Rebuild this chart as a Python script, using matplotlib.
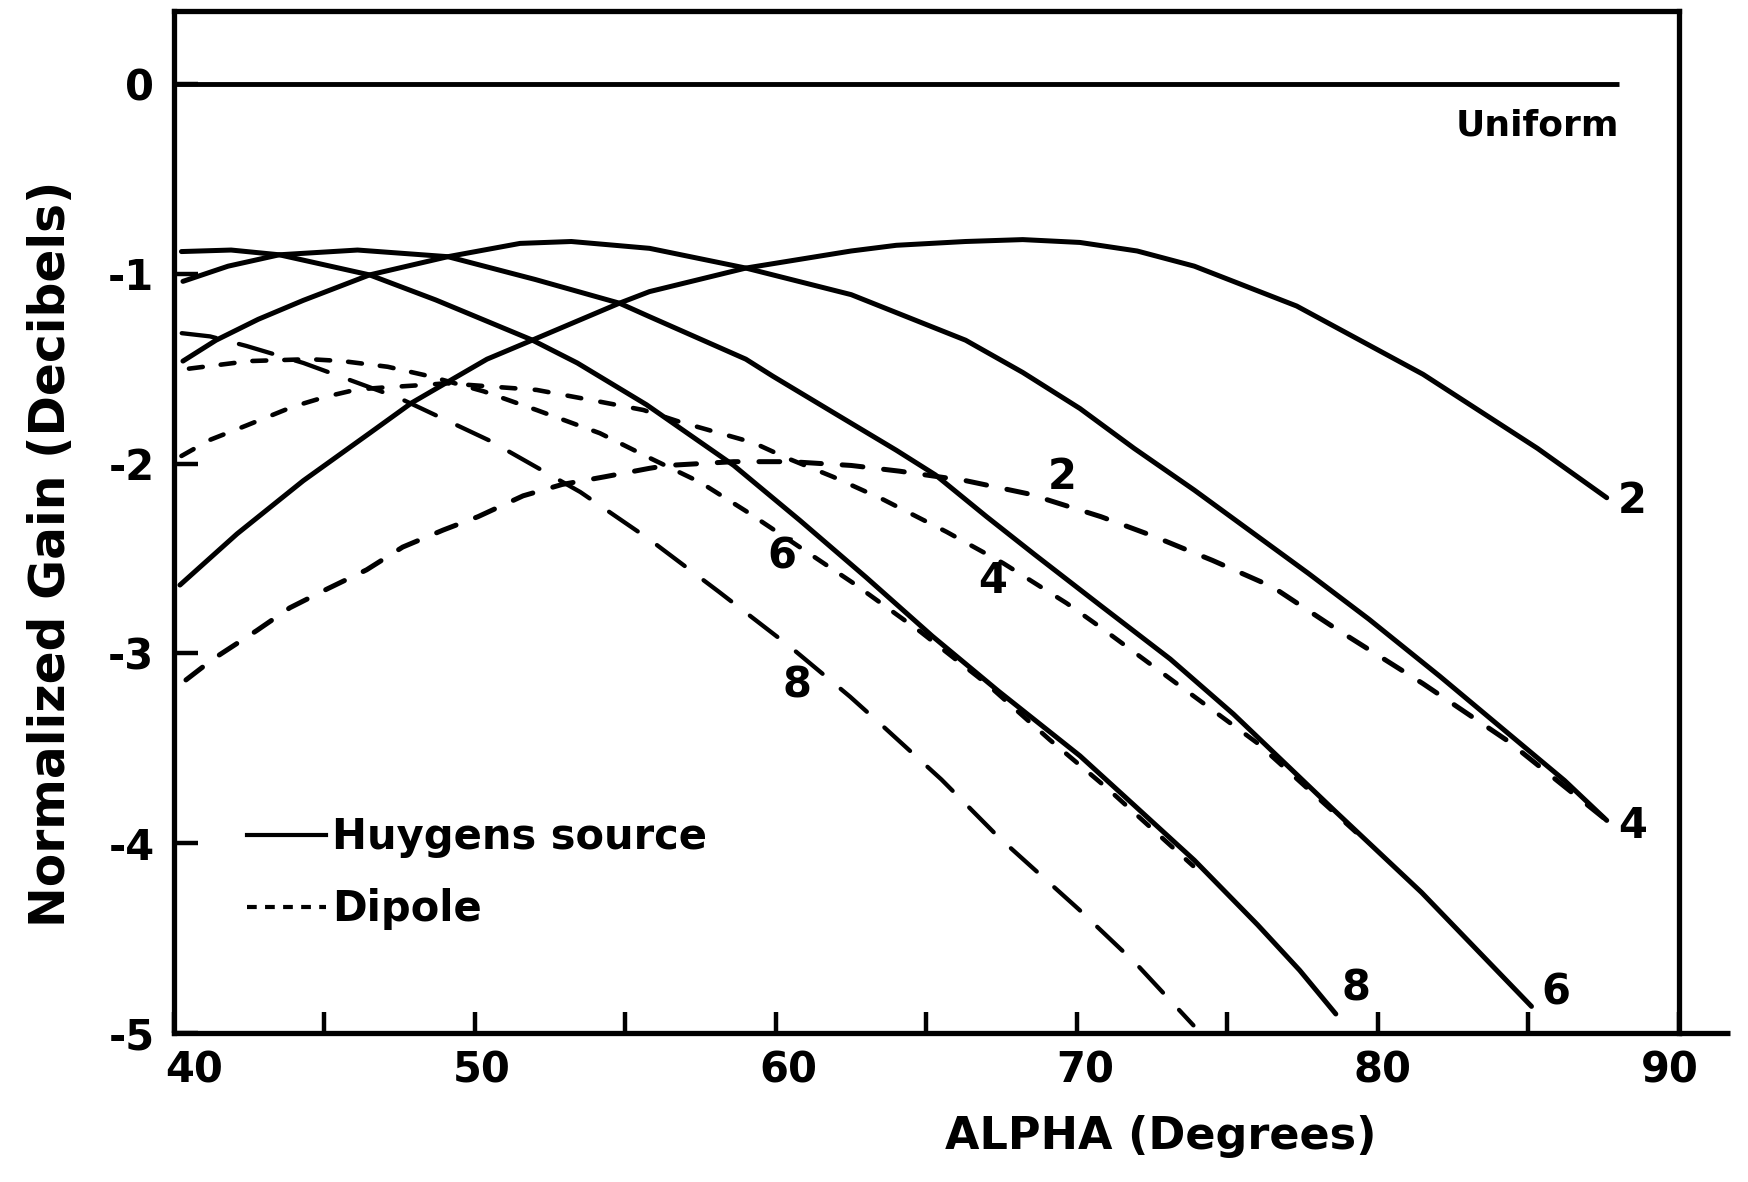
import matplotlib
matplotlib.use("Agg")
import matplotlib.pyplot as plt
import matplotlib.transforms as mtransforms
from matplotlib.lines import Line2D

plt.rcParams["font.family"] = ["DejaVu Sans"]
plt.rcParams["font.weight"] = "bold"
plt.rcParams["axes.labelweight"] = "bold"
plt.rcParams["lines.scale_dashes"] = False

# ---------------------------------------------------------------
# normalized gain (dB) against ALPHA (degrees)
# H = Huygens source feed, D = dipole feed, keyed by curve number
# ---------------------------------------------------------------
h2_alpha = [40.2, 42.1, 44.3, 46.5, 47.9, 50.4, 51.9, 54.8, 55.8, 59.0, 62.5,
            64.0, 66.3, 68.2, 70.1, 72.0, 73.9, 77.3, 81.5, 85.3, 87.6]
h2_gain = [-2.64, -2.37, -2.09, -1.84, -1.68, -1.45, -1.35, -1.155, -1.094, -0.97, -0.88,
           -0.85, -0.83, -0.82, -0.835, -0.88, -0.96, -1.17, -1.53, -1.92, -2.18]

h4_alpha = [40.3, 41.4, 42.8, 44.3, 46.5, 49.1, 51.5, 53.2, 55.8, 59.0, 62.5,
            66.3, 68.2, 70.1, 71.9, 73.9, 77.7, 79.7, 82.05, 86.2, 87.6]
h4_gain = [-1.46, -1.35, -1.24, -1.14, -1.006, -0.91, -0.84, -0.83, -0.866, -0.97, -1.11,
           -1.35, -1.52, -1.71, -1.92, -2.14, -2.58, -2.82, -3.12, -3.67, -3.88]

h6_alpha = [40.3, 41.8, 43.5, 46.1, 49.1, 52.0, 54.8, 55.8, 59.0, 59.9, 62.0,
            64.0, 65.3, 67.0, 68.6, 70.8, 73.1, 75.2, 78.5, 81.45, 85.1]
h6_gain = [-1.04, -0.96, -0.90, -0.875, -0.91, -1.03, -1.155, -1.226, -1.45, -1.54, -1.74,
           -1.93, -2.06, -2.28, -2.48, -2.75, -3.03, -3.32, -3.82, -4.26, -4.86]

h8_alpha = [40.25, 41.9, 43.5, 46.5, 48.7, 51.9, 53.4, 55.7, 58.6, 60.8, 63.0,
            65.2, 67.4, 70.1, 71.9, 73.9, 76.0, 77.4, 78.6]
h8_gain = [-0.883, -0.875, -0.90, -1.006, -1.138, -1.349, -1.47, -1.69, -2.01, -2.30, -2.60,
           -2.91, -3.20, -3.54, -3.80, -4.09, -4.43, -4.67, -4.90]

d2_alpha = [40.4, 41.3, 42.75, 43.85, 45.1, 46.4, 47.6, 48.95, 50.1, 51.6, 52.9,
            54.3, 55.8, 56.4, 58.6, 60.5, 62.5, 64.1, 66.3, 68.4, 70.8, 72.5,
            74.5, 76.5, 78.6, 81.5, 84.3, 87.6]
d2_gain = [-3.14, -3.03, -2.88, -2.76, -2.66, -2.56, -2.44, -2.35, -2.28, -2.17, -2.11,
           -2.07, -2.025, -2.01, -1.99, -1.99, -2.01, -2.04, -2.09, -2.16, -2.28, -2.38,
           -2.51, -2.65, -2.87, -3.16, -3.46, -3.88]

d4_alpha = [40.25, 41.2, 42.4, 43.96, 45.07, 46.07, 47.07, 48.3, 49.06, 52.05, 54.15,
            55.6, 56.8, 59.25, 60.35, 61.9, 63.57, 65.67, 67.55, 69.66, 70.76, 73.15,
            75.97, 79.6]
d4_gain = [-1.96, -1.875, -1.80, -1.70, -1.647, -1.61, -1.598, -1.586, -1.577, -1.612, -1.674,
           -1.718, -1.78, -1.89, -1.97, -2.07, -2.19, -2.36, -2.525, -2.736, -2.86, -3.14,
           -3.47, -3.99]

d6_alpha = [40.5, 42.5, 44.5, 45.6, 47.1, 48.5, 50.3, 52.05, 54.15, 55.8, 57.5,
            59.0, 60.6, 62.57, 64.8, 67.0, 69.1, 71.0, 73.86]
d6_gain = [-1.50, -1.46, -1.45, -1.46, -1.49, -1.54, -1.62, -1.718, -1.84, -1.97, -2.10,
           -2.25, -2.42, -2.63, -2.886, -3.16, -3.456, -3.71, -4.12]

d8_alpha = [40.26, 41.2, 42.4, 44.3, 47.5, 50.5, 53.5, 55.8, 58.1, 60.47, 62.46,
            63.57, 65.5, 67.4, 70.07, 71.97, 73.87]
d8_gain = [-1.313, -1.33, -1.38, -1.47, -1.656, -1.88, -2.15, -2.40, -2.675, -2.965, -3.228,
           -3.386, -3.665, -3.969, -4.35, -4.636, -4.96]

uniform_alpha = [40.0, 88.0]
uniform_gain = [0.0, 0.0]

x_ticks = [40, 45, 50, 55, 60, 65, 70, 75, 80, 85, 90]
x_tick_labels = ["40", "", "50", "", "60", "", "70", "", "80", "", "90"]
y_ticks = [0, -1, -2, -3, -4, -5]
y_tick_labels = ["0", "-1", "-2", "-3", "-4", "-5"]

huygens = {"2": (h2_alpha, h2_gain), "4": (h4_alpha, h4_gain),
           "6": (h6_alpha, h6_gain), "8": (h8_alpha, h8_gain)}
dipole = {"2": (d2_alpha, d2_gain), "4": (d4_alpha, d4_gain),
          "6": (d6_alpha, d6_gain), "8": (d8_alpha, d8_gain)}

# dash patterns (points) and line widths for the dipole curves
dipole_style = {"2": ((0, (15, 15)), 3.6), "4": ((0, (10, 14)), 3.3),
                "6": ((0, (10, 13)), 3.3), "8": ((0, (25, 17)), 3.1)}
# where the curve numbers sit on the dipole curves
dipole_label_at = {"2": (69.5, -2.07), "4": (67.2, -2.62),
                   "6": (60.2, -2.49), "8": (60.7, -3.17)}
# offsets (points) of the numbers at the end of each Huygens curve
huygens_label_offset = {"2": (8, -2), "4": (8, -4), "6": (7, 10), "8": (4, 18)}
# lettered x labels sit a little off their ticks (inches)
x_label_nudge = {"40": 0.20, "50": 0.07, "60": 0.12, "70": 0.08, "80": 0.05, "90": -0.09}

fig = plt.figure(figsize=(17.48, 11.82), dpi=100)
ax = fig.add_axes([0.0995, 0.1261, 0.8610, 0.8642])

ax.plot(uniform_alpha, uniform_gain, color="k", lw=3.5, solid_capstyle="butt")
ax.text(88.0, -0.22, "Uniform", fontsize=26, ha="right", va="center")

for key, (a, g) in huygens.items():
    ax.plot(a, g, color="k", lw=3.6, solid_joinstyle="round", solid_capstyle="round")
    ax.annotate(key, xy=(a[-1], g[-1]), xytext=huygens_label_offset[key],
                textcoords="offset points", ha="left", va="center", fontsize=30)

for key, (a, g) in dipole.items():
    ls, lw = dipole_style[key]
    ax.plot(a, g, color="k", lw=lw, linestyle=ls, dash_capstyle="round")
    lx, ly = dipole_label_at[key]
    ax.text(lx, ly, key, fontsize=30, ha="center", va="center")

ax.set_xlim(40, 90)
ax.set_ylim(-5, 0.382)

for side in ["left", "right", "top", "bottom"]:
    ax.spines[side].set_linewidth(3.8)
# bottom axis runs on a little past 90
ax.plot([90, 91.7], [-5, -5], color="k", lw=3.8, clip_on=False, solid_capstyle="butt")

ax.set_xticks(x_ticks)
ax.set_xticklabels(x_tick_labels)
ax.set_yticks(y_ticks)
ax.set_yticklabels(y_tick_labels)
ax.tick_params(axis="x", direction="in", length=15, width=3.2, labelsize=30, pad=12)
ax.tick_params(axis="y", direction="in", length=17, width=3.2, labelsize=30, pad=14)

for lbl in ax.get_xticklabels():
    dx = x_label_nudge.get(lbl.get_text())
    if dx:
        lbl.set_transform(lbl.get_transform()
                          + mtransforms.ScaledTranslation(dx, 0, fig.dpi_scale_trans))

ax.set_xlabel("ALPHA (Degrees)", fontsize=32)
ax.xaxis.set_label_coords(0.656, -0.080)
ax.set_ylabel("Normalized Gain (Decibels)", fontsize=35)
ax.yaxis.set_label_coords(-0.066, 0.469)

handles = [Line2D([], [], color="k", lw=3.0),
           Line2D([], [], color="k", lw=3.0, linestyle=(0, (7, 6)))]
ax.legend(handles, ["Huygens source", "Dipole"], loc="upper left",
          bbox_to_anchor=(0.0485, 0.212), frameon=False, borderpad=0, borderaxespad=0,
          handlelength=1.9, handletextpad=0.15, labelspacing=0.72,
          prop={"size": 30, "weight": "bold"})

fig.savefig("out.png", dpi=100, facecolor="white")
